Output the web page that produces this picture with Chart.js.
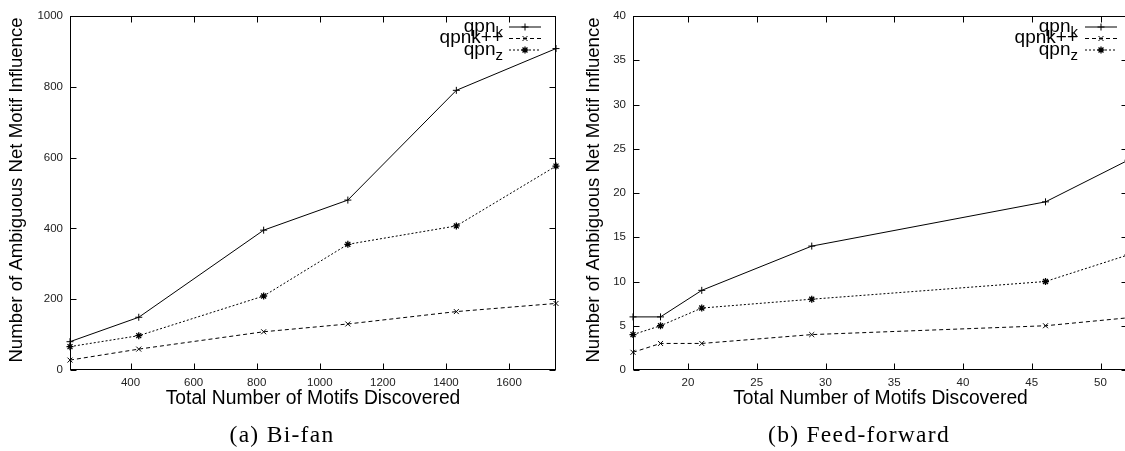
<!DOCTYPE html>
<html>
<head>
<meta charset="utf-8">
<script src="https://cdn.jsdelivr.net/npm/chart.js@4/dist/chart.umd.min.js"></script>
<style>
  html, body { margin: 0; padding: 0; background: #fff; overflow: hidden; }
  #wrap { position: relative; width: 1125px; height: 451px; overflow: hidden; }
  canvas { position: absolute; top: 0; }
  #left { left: 0; }
  #right { left: 560px; }
</style>
</head>
<body>
<div id="wrap">
  <canvas id="left" width="560" height="451"></canvas>
  <canvas id="right" width="568" height="451"></canvas>
</div>
<script>
// (a) Bi-fan
const xBifan = [208, 426, 822, 1089, 1433, 1749];
const qpnKBifan = [80, 149, 395, 480, 790, 908];
const qpnKppBifan = [28, 59, 108, 130, 165, 188];
const qpnZBifan = [66, 97, 209, 355, 407, 576];
const xTicksBifan = [400, 600, 800, 1000, 1200, 1400, 1600];
const yTicksBifan = [0, 200, 400, 600, 800, 1000];

// (b) Feed-forward
const xFeed = [16, 18, 21, 29, 46, 52];
const qpnKFeed = [6, 6, 9, 14, 19, 23.7];
const qpnKppFeed = [2, 3, 3, 4, 5, 5.9];
const qpnZFeed = [4, 5, 7, 8, 10, 13];
const xTicksFeed = [20, 25, 30, 35, 40, 45, 50];
const yTicksFeed = [0, 5, 10, 15, 20, 25, 30, 35, 40];

const seriesLabels = ['qpn_k', 'qpnk++', 'qpn_z'];
const yTitle = 'Number of Ambiguous Net Motif Influence';
const xTitle = 'Total Number of Motifs Discovered';

const SANS = "'Liberation Sans', Arial, sans-serif";
Chart.defaults.font.family = SANS;

const pts = (xs, ys) => xs.map((x, i) => ({x: x, y: ys[i]}));

function makeSets(xs, k, kpp, z) {
  const base = {
    borderColor: '#000', borderWidth: 1, pointBorderColor: '#000',
    pointBackgroundColor: 'rgba(0,0,0,0)', pointRadius: 3.5,
    pointBorderWidth: 1, tension: 0, clip: false
  };
  return [
    Object.assign({}, base, {label: seriesLabels[0], data: pts(xs, k), pointStyle: 'cross'}),
    Object.assign({}, base, {label: seriesLabels[1], data: pts(xs, kpp), pointStyle: 'crossRot', borderDash: [4, 3]}),
    Object.assign({}, base, {label: seriesLabels[2], data: pts(xs, z), pointStyle: 'star', borderDash: [2, 2], pointBorderWidth: 1.3})
  ];
}

// frame with gnuplot style inward ticks on all four sides
const framePlugin = {
  id: 'frame',
  beforeDatasetsDraw(chart) {
    const {ctx, chartArea: a, scales} = chart;
    const L = Math.round(a.left) + 0.5, R = Math.round(a.right) - 0.5;
    const T = Math.round(a.top) + 0.5, B = Math.round(a.bottom) - 0.5;
    ctx.save();
    ctx.strokeStyle = '#000';
    ctx.lineWidth = 1;
    ctx.strokeRect(L, T, R - L, B - T);
    ctx.beginPath();
    scales.x.ticks.forEach(t => {
      const px = Math.round(scales.x.getPixelForValue(t.value)) + 0.5;
      ctx.moveTo(px, B); ctx.lineTo(px, B - 6);
      ctx.moveTo(px, T); ctx.lineTo(px, T + 6);
    });
    scales.y.ticks.forEach(t => {
      const py = Math.round(scales.y.getPixelForValue(t.value)) + 0.5;
      ctx.moveTo(L, py); ctx.lineTo(L + 6, py);
      ctx.moveTo(R, py); ctx.lineTo(R - 6, py);
    });
    ctx.stroke();
    ctx.restore();
  }
};

// axis titles, caption and the overlapping gnuplot key
const textPlugin = {
  id: 'texts',
  afterDraw(chart, args, o) {
    const {ctx, chartArea: a} = chart;
    ctx.save();
    ctx.fillStyle = '#000';
    ctx.font = '19.3px ' + SANS;
    ctx.textAlign = 'center';
    ctx.textBaseline = 'alphabetic';
    ctx.fillText(xTitle, (a.left + a.right) / 2, 404);
    ctx.save();
    ctx.font = '18.6px ' + SANS;
    ctx.translate(o.yTitleX, (a.top + a.bottom) / 2 - 3);
    ctx.rotate(-Math.PI / 2);
    ctx.textBaseline = 'middle';
    ctx.fillText(yTitle, 0, 0);
    ctx.restore();

    ctx.font = "23.5px 'Liberation Serif', 'Times New Roman', serif";
    ctx.letterSpacing = '1.3px';
    ctx.fillText(o.caption, o.captionX, 442);
    ctx.letterSpacing = '0px';

    // key
    chart.data.datasets.forEach((ds, i) => {
      const y = o.keyRows[i];
      const parts = ds.label.split('_');
      ctx.textAlign = 'right';
      ctx.textBaseline = 'alphabetic';
      let right = o.keyTextRight;
      if (parts[1]) {
        ctx.font = '15px ' + SANS;
        ctx.fillText(parts[1], right, y + 10);
        right -= ctx.measureText(parts[1]).width;
      }
      ctx.font = '19px ' + SANS;
      ctx.fillText(parts[0], right, y + 5);

      ctx.strokeStyle = '#000';
      ctx.lineWidth = 1;
      ctx.setLineDash(ds.borderDash || []);
      ctx.beginPath();
      ctx.moveTo(o.keyLine[0], y + 0.5);
      ctx.lineTo(o.keyLine[1], y + 0.5);
      ctx.stroke();
      ctx.setLineDash([]);
      ctx.lineWidth = ds.pointBorderWidth;
      Chart.helpers.drawPoint(ctx, {pointStyle: ds.pointStyle, radius: 3.5, borderWidth: ds.pointBorderWidth, rotation: 0},
        (o.keyLine[0] + o.keyLine[1]) / 2, y + 0.5);
    });
    ctx.restore();
  }
};

function makeChart(id, sets, xr, yr, xTicks, yTicks, yWidth, padRight, texts) {
  const tickFont = {size: 11.5, family: SANS};
  const plain = v => String(v);
  return new Chart(document.getElementById(id), {
    type: 'line',
    data: {datasets: sets},
    options: {
      responsive: false,
      animation: false,
      layout: {autoPadding: false, padding: {top: 16, right: padRight, left: 0, bottom: 0}},
      plugins: {legend: {display: false}, tooltip: {enabled: false}, texts: texts},
      scales: {
        x: {
          type: 'linear', min: xr[0], max: xr[1],
          grid: {display: false, drawTicks: false}, border: {display: false},
          afterBuildTicks: s => { s.ticks = xTicks.map(v => ({value: v})); },
          afterFit: s => { s.height = 81; s.paddingLeft = 0; s.paddingRight = 0; },
          ticks: {font: tickFont, color: '#222', padding: 6, maxRotation: 0, autoSkip: false, callback: plain}
        },
        y: {
          type: 'linear', min: yr[0], max: yr[1],
          grid: {display: false, drawTicks: false}, border: {display: false},
          afterBuildTicks: s => { s.ticks = yTicks.map(v => ({value: v})); },
          afterFit: s => { s.width = yWidth; s.paddingTop = 0; s.paddingBottom = 0; },
          ticks: {font: tickFont, color: '#222', padding: 7, autoSkip: false, callback: plain}
        }
      }
    },
    plugins: [framePlugin, textPlugin]
  });
}

makeChart('left', makeSets(xBifan, qpnKBifan, qpnKppBifan, qpnZBifan),
  [208, 1749], [0, 1000], xTicksBifan, yTicksBifan, 70, 4,
  {yTitleX: 17, caption: '(a) Bi-fan', captionX: 282, keyRows: [26.5, 38, 49.5], keyLine: [509, 541], keyTextRight: 503});

makeChart('right', makeSets(xFeed, qpnKFeed, qpnKppFeed, qpnZFeed),
  [16, 52], [0, 40], xTicksFeed, yTicksFeed, 73, 0,
  {yTitleX: 34, caption: '(b) Feed-forward', captionX: 299, keyRows: [26.5, 38, 49.5], keyLine: [525, 557], keyTextRight: 518});
</script>
</body>
</html>
